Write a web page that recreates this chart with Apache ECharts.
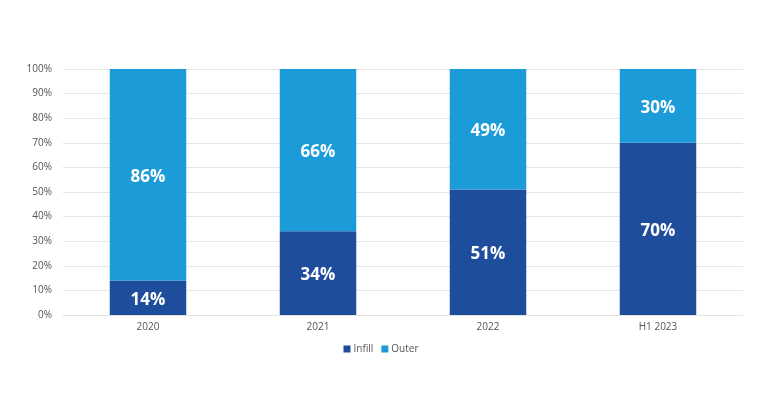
<!DOCTYPE html>
<html><head><meta charset="utf-8">
<script src="https://cdn.jsdelivr.net/npm/echarts@6/dist/echarts.min.js"></script>
<style>html,body{margin:0;padding:0;background:#fff}#c{width:762px;height:393px}</style>
</head><body><div id="c"></div>
<script>
const categories = ['2020', '2021', '2022', 'H1 2023'];
const infill = [14, 34, 51, 70];
const outer = [86, 66, 49, 30];
const yTicks = [0, 10, 20, 30, 40, 50, 60, 70, 80, 90, 100];

const chart = echarts.init(document.getElementById('c'));
const lbl = {show: true, position: 'inside', color: '#fff', fontSize: 17, fontWeight: 'bold', fontFamily: 'Open Sans', offset: [0, 2], formatter: p => p.value + '%'};
chart.setOption({
  animation: false,
  grid: {left: 63, right: 19, top: 69, bottom: 78},
  legend: {bottom: 34, left: 'center', itemWidth: 7, itemHeight: 7, itemGap: 8, icon: 'rect',
    textStyle: {fontSize: 10, color: '#555', fontFamily: 'Open Sans', padding: [0,0,0,-2]},
    data: ['Infill', 'Outer']},
  xAxis: {type: 'category', data: categories,
    axisLine: {show: true, lineStyle: {color: '#e3e3e3'}}, axisTick: {show: false},
    axisLabel: {color: '#555', fontSize: 10, fontFamily: 'Open Sans', margin: 7}},
  yAxis: {type: 'value', min: 0, max: 100, interval: 10,
    axisLabel: {color: '#555', fontSize: 10, fontFamily: 'Open Sans', formatter: v => v + '%', margin: 11},
    splitLine: {lineStyle: {color: '#e6e6e6'}}, axisLine: {show: false}, axisTick: {show: false}},
  series: [
    {name: 'Infill', type: 'bar', stack: 's', data: infill, barWidth: '45%', itemStyle: {color: '#1e4d9b'}, label: lbl},
    {name: 'Outer', type: 'bar', stack: 's', data: outer, barWidth: '45%', itemStyle: {color: '#1b9cd9'}, label: lbl}
  ]
});
</script></body></html>
